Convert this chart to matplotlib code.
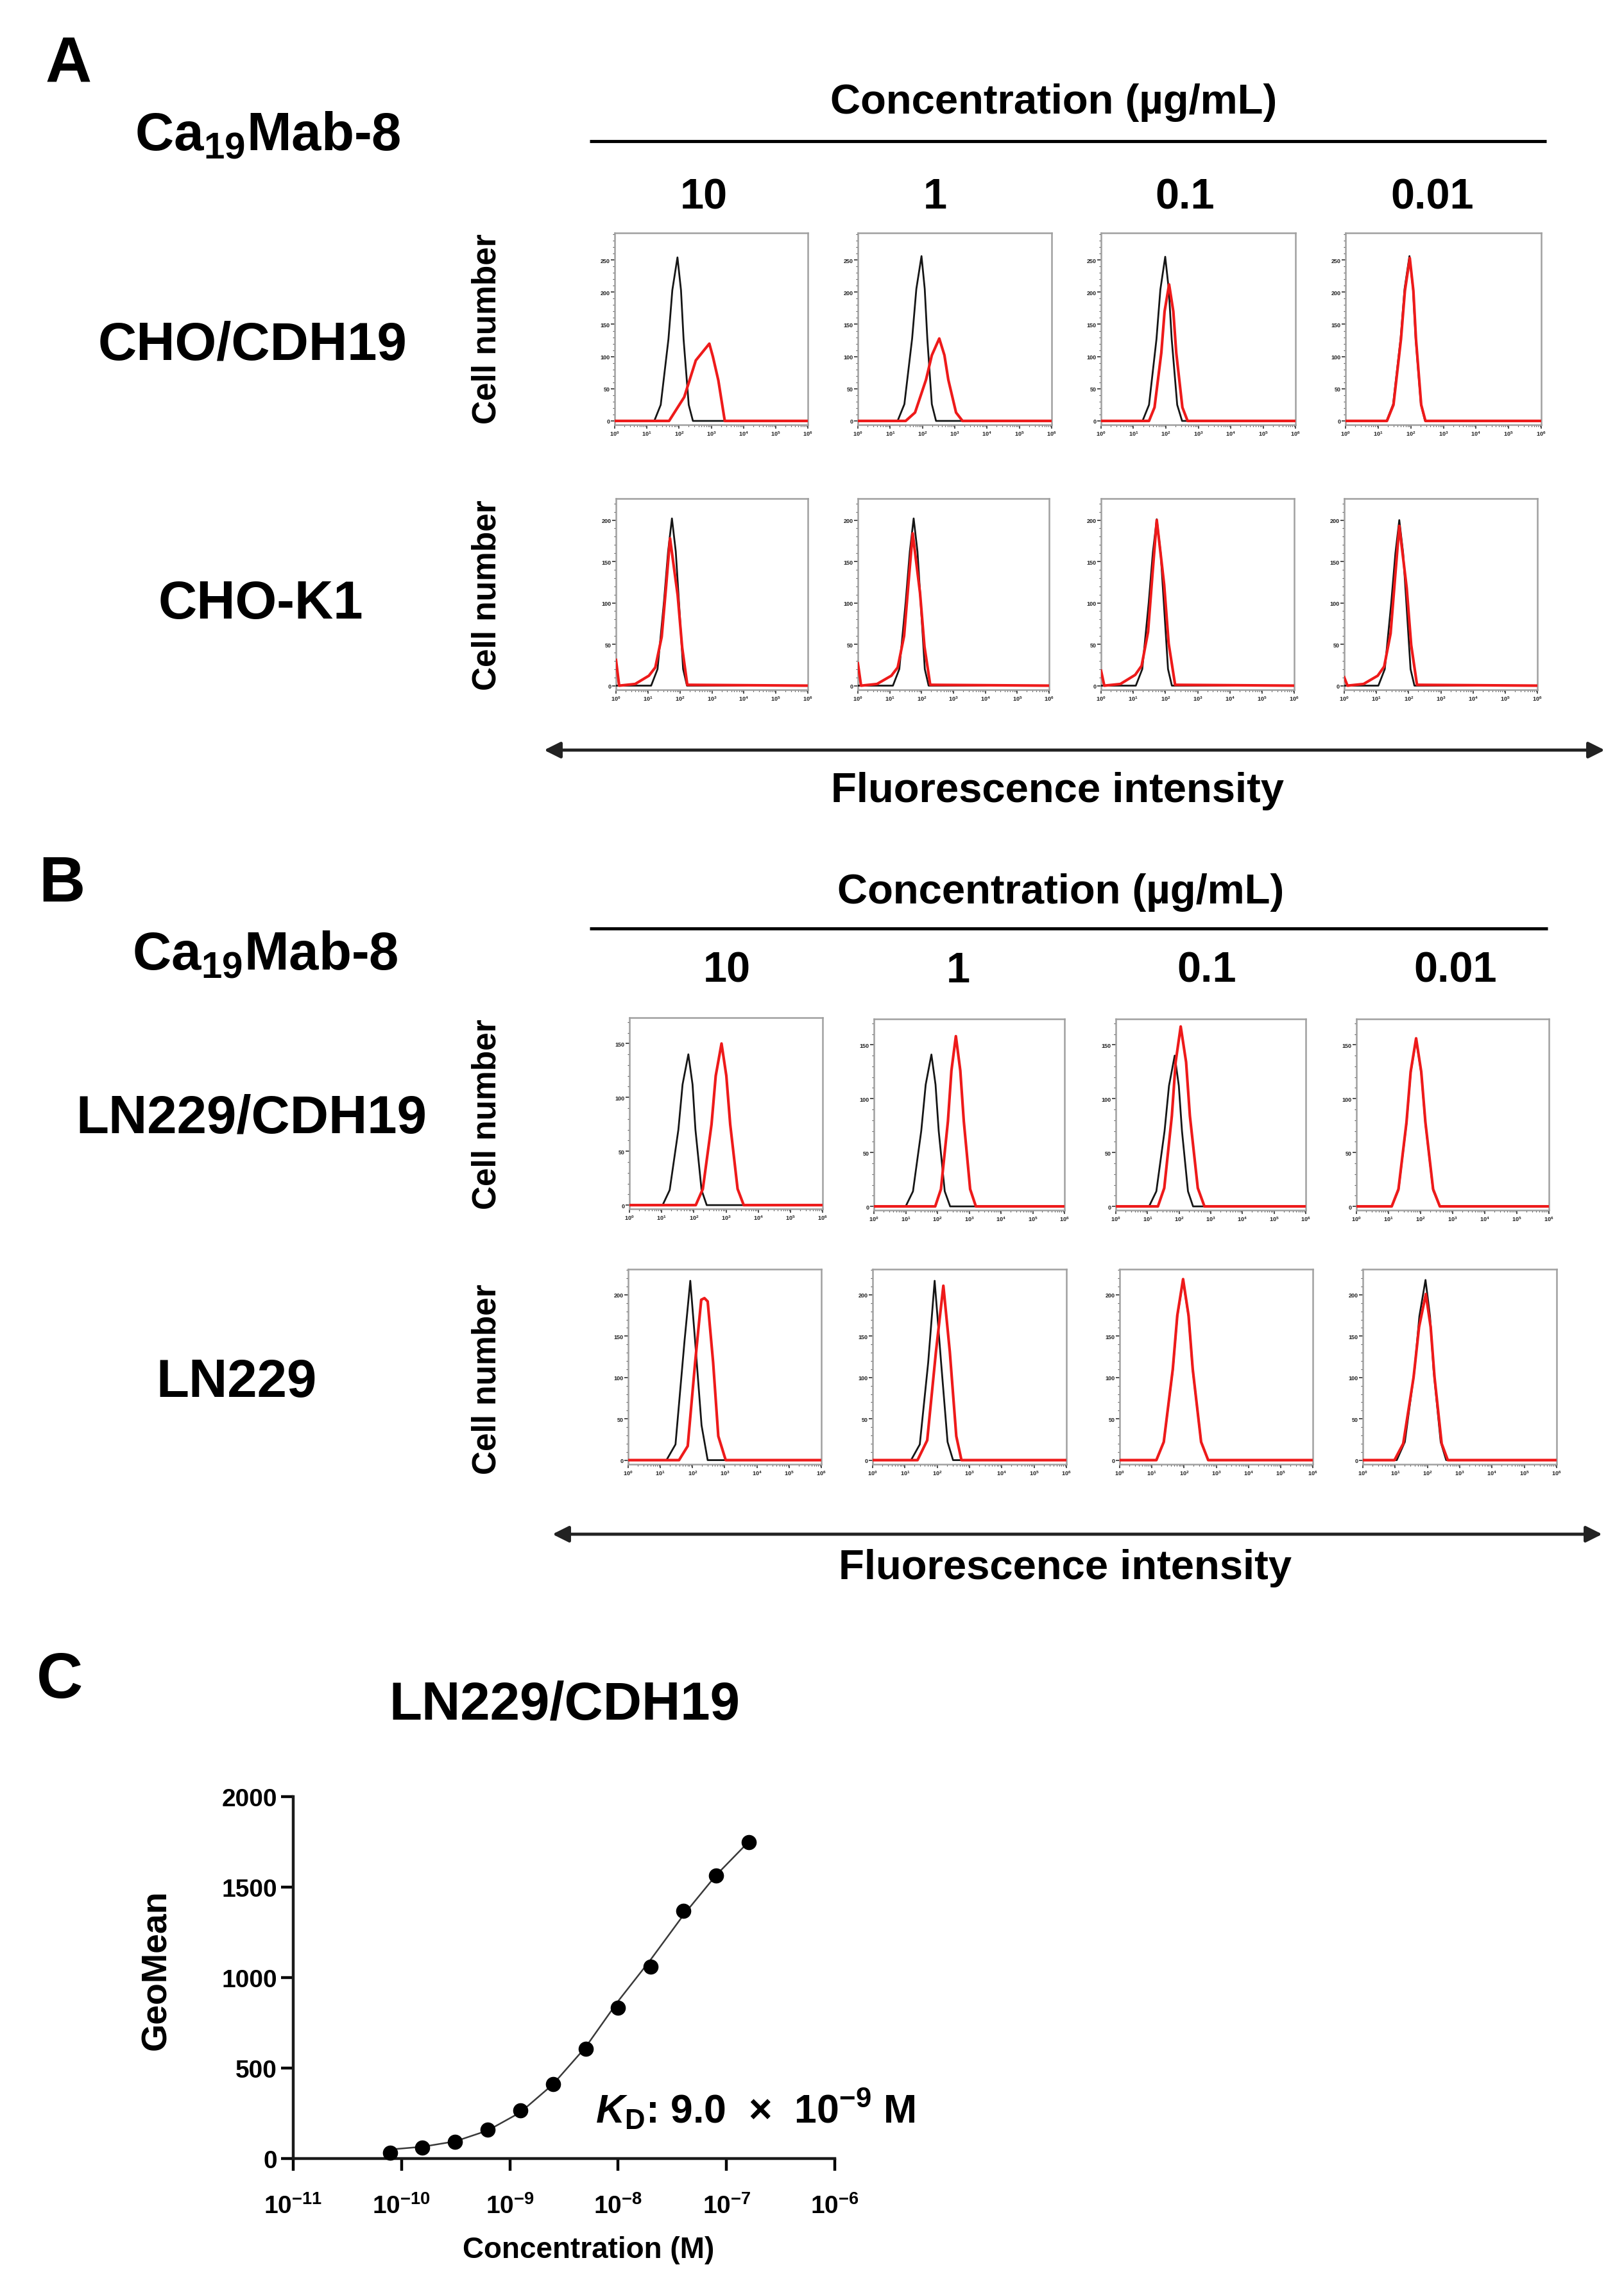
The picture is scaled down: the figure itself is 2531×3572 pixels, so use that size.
import numpy as np
import matplotlib
matplotlib.use('Agg')
import matplotlib.pyplot as plt
from matplotlib.lines import Line2D
from matplotlib.patches import FancyArrowPatch
from matplotlib.ticker import NullLocator, FixedLocator

plt.rcParams['font.family'] = ['Liberation Sans', 'DejaVu Sans']
plt.rcParams['mathtext.fontset'] = 'custom'
plt.rcParams['mathtext.rm'] = 'Liberation Sans:bold'
plt.rcParams['mathtext.it'] = 'Liberation Sans:italic:bold'
plt.rcParams['mathtext.bf'] = 'Liberation Sans:bold'
plt.rcParams['mathtext.default'] = 'rm'

# ---------------- data ----------------
conc_labels = ['10', '1', '0.1', '0.01']
cells_A = ['CHO/CDH19', 'CHO-K1']
cells_B = ['LN229/CDH19', 'LN229']

# histogram traces: x = log10(fluorescence), y = cell count, one list per concentration column
cho_cdh19_black_x = [[0.0, 1.23, 1.43, 1.67, 1.79, 1.95, 2.06, 2.14, 2.30, 2.43, 6.0],
                     [0.0, 1.23, 1.44, 1.68, 1.81, 1.97, 2.07, 2.15, 2.29, 2.42, 6.0],
                     [0.0, 1.28, 1.48, 1.71, 1.83, 1.98, 2.09, 2.18, 2.35, 2.50, 6.0],
                     [0.0, 1.26, 1.46, 1.69, 1.81, 1.96, 2.07, 2.15, 2.31, 2.44, 6.0]]
cho_cdh19_black_y = [[0, 0, 25, 127, 203, 254, 203, 127, 25, 0, 0],
                     [0, 0, 26, 128, 205, 256, 205, 128, 26, 0, 0],
                     [0, 0, 25, 127, 204, 255, 204, 127, 25, 0, 0],
                     [0, 0, 26, 128, 205, 256, 205, 128, 26, 0, 0]]
cho_cdh19_red_x = [[0.0, 1.69, 2.16, 2.52, 2.94, 3.05, 3.22, 3.42, 6.0],
                   [0.0, 1.48, 1.77, 2.11, 2.29, 2.52, 2.68, 2.80, 3.04, 3.24, 6.0],
                   [0.0, 1.48, 1.65, 1.86, 1.96, 2.10, 2.23, 2.32, 2.51, 2.67, 6.0],
                   [0.0, 1.27, 1.47, 1.70, 1.82, 1.97, 2.08, 2.16, 2.32, 2.45, 6.0]]
cho_cdh19_red_y = [[0, 0, 37, 94, 120, 100, 63, 0, 0],
                   [0, 0, 13, 64, 102, 128, 102, 64, 13, 0, 0],
                   [0, 0, 21, 106, 170, 212, 170, 106, 21, 0, 0],
                   [0, 0, 25, 127, 202, 253, 202, 127, 25, 0, 0]]

chok1_black_x = [[0.0, 1.10, 1.30, 1.50, 1.63, 1.75, 1.87, 1.97, 2.10, 2.22, 6.0],
                 [0.0, 1.10, 1.30, 1.50, 1.63, 1.75, 1.87, 1.97, 2.10, 2.22, 6.0],
                 [0.0, 1.08, 1.28, 1.48, 1.61, 1.73, 1.85, 1.95, 2.08, 2.20, 6.0],
                 [0.0, 1.06, 1.26, 1.46, 1.59, 1.71, 1.83, 1.93, 2.06, 2.18, 6.0]]
chok1_black_y = [[0, 0, 20, 101, 162, 202, 162, 101, 20, 0, 0],
                 [0, 0, 20, 101, 162, 202, 162, 101, 20, 0, 0],
                 [0, 0, 20, 100, 161, 201, 161, 100, 20, 0, 0],
                 [0, 0, 20, 100, 160, 200, 160, 100, 20, 0, 0]]
chok1_red_x = [[0.0, 0.1, 0.6, 1.03, 1.23, 1.43, 1.57, 1.69, 1.93, 2.07, 2.23, 6.0],
               [0.0, 0.1, 0.6, 1.05, 1.25, 1.45, 1.59, 1.72, 1.95, 2.09, 2.27, 6.0],
               [0.0, 0.1, 0.6, 1.06, 1.26, 1.46, 1.60, 1.73, 1.96, 2.10, 2.30, 6.0],
               [0.0, 0.1, 0.6, 1.04, 1.24, 1.44, 1.58, 1.71, 1.94, 2.08, 2.26, 6.0]]
chok1_red_y = [[31, 0, 2, 12, 22, 59, 121, 178, 109, 46, 1, 0],
               [27, 0, 2, 12, 22, 60, 125, 184, 112, 47, 1, 0],
               [18, 0, 2, 13, 24, 65, 136, 200, 122, 51, 1, 0],
               [10, 0, 2, 12, 23, 63, 131, 193, 118, 49, 1, 0]]

ln229_cdh19_black_x = [[0.0, 1.03, 1.25, 1.52, 1.65, 1.83, 1.96, 2.05, 2.24, 2.40, 6.0],
                       [0.0, 1.00, 1.23, 1.49, 1.63, 1.81, 1.94, 2.04, 2.23, 2.40, 6.0],
                       [0.0, 1.05, 1.28, 1.54, 1.68, 1.86, 1.99, 2.09, 2.28, 2.44, 6.0],
                       [0.0, 1.10, 1.31, 1.56, 1.69, 1.86, 2.02, 2.15, 2.39, 2.60, 6.0]]
ln229_cdh19_black_y = [[0, 0, 14, 70, 112, 140, 112, 70, 14, 0, 0],
                       [0, 0, 14, 70, 113, 141, 113, 70, 14, 0, 0],
                       [0, 0, 14, 70, 112, 140, 112, 70, 14, 0, 0],
                       [0, 0, 15, 77, 124, 155, 124, 77, 15, 0, 0]]
ln229_cdh19_red_x = [[0.0, 2.06, 2.28, 2.55, 2.68, 2.86, 3.01, 3.13, 3.36, 3.55, 6.0],
                     [0.0, 1.93, 2.11, 2.33, 2.44, 2.58, 2.72, 2.83, 3.03, 3.21, 6.0],
                     [0.0, 1.33, 1.53, 1.77, 1.89, 2.05, 2.22, 2.34, 2.59, 2.80, 6.0],
                     [0.0, 1.10, 1.31, 1.56, 1.69, 1.86, 2.02, 2.15, 2.39, 2.60, 6.0]]
ln229_cdh19_red_y = [[0, 0, 15, 75, 120, 150, 120, 75, 15, 0, 0],
                     [0, 0, 16, 79, 126, 158, 126, 79, 16, 0, 0],
                     [0, 0, 17, 84, 134, 167, 134, 84, 17, 0, 0],
                     [0, 0, 16, 78, 125, 156, 125, 78, 16, 0, 0]]

ln229_black_x = [[0.0, 1.19, 1.47, 1.75, 1.93, 2.08, 2.28, 2.47, 6.0],
                 [0.0, 1.19, 1.46, 1.72, 1.92, 2.12, 2.32, 2.49, 6.0],
                 [0.0, 1.14, 1.37, 1.65, 1.79, 1.97, 2.14, 2.27, 2.53, 2.75, 6.0],
                 [0.0, 1.05, 1.30, 1.60, 1.75, 1.94, 2.08, 2.19, 2.41, 2.58, 6.0]]
ln229_black_y = [[0, 0, 19, 144, 217, 144, 42, 0, 0],
                 [0, 0, 19, 118, 217, 118, 22, 0, 0],
                 [0, 0, 22, 109, 174, 217, 174, 109, 22, 0, 0],
                 [0, 0, 22, 109, 174, 218, 174, 109, 22, 0, 0]]
ln229_red_x = [[0.0, 1.58, 1.85, 2.08, 2.27, 2.37, 2.47, 2.64, 2.80, 3.03, 6.0],
               [0.0, 1.39, 1.69, 1.96, 2.19, 2.39, 2.59, 2.75, 6.0],
               [0.0, 1.14, 1.37, 1.65, 1.79, 1.97, 2.14, 2.27, 2.53, 2.75, 6.0],
               [0.0, 0.98, 1.25, 1.57, 1.74, 1.95, 2.10, 2.22, 2.44, 2.63, 6.0]]
ln229_red_y = [[0, 0, 17, 118, 194, 196, 192, 118, 29, 0, 0],
               [0, 0, 24, 131, 211, 131, 29, 0, 0],
               [0, 0, 22, 110, 175, 219, 175, 110, 22, 0, 0],
               [0, 0, 20, 100, 161, 201, 161, 100, 20, 0, 0]]

# panel C: binding curve
conc_M = [7.8e-11, 1.56e-10, 3.13e-10, 6.25e-10, 1.25e-9, 2.5e-9, 5e-9, 1e-8, 2e-8, 4e-8, 8e-8, 1.6e-7]
geomean = [32, 60, 92, 160, 266, 411, 606, 833, 1060, 1369, 1564, 1748]
geomean_fit = [50, 65, 95, 155, 255, 410, 615, 870, 1100, 1345, 1565, 1750]
kd_text = r'$\mathit{K}_{\mathrm{D}}$: 9.0  ×  10$^{-9}$ M'

# ---------------- figure ----------------
W, H = 2531, 3573
fig = plt.figure(figsize=(W / 100, H / 100), dpi=100)


def fx(x):
    return x / W


def fy(y):
    return 1 - y / H


def txt(x, y, s, size, **kw):
    kw.setdefault('ha', 'center')
    kw.setdefault('va', 'center')
    fig.text(fx(x), fy(y), s, fontsize=size, fontweight='bold', **kw)


def hline(x1, x2, y, lw=3.5):
    fig.add_artist(Line2D([fx(x1), fx(x2)], [fy(y), fy(y)], transform=fig.transFigure,
                          lw=lw, color='black', solid_capstyle='butt'))


def arrow(x1, x2, y):
    fig.add_artist(FancyArrowPatch((fx(x1), fy(y)), (fx(x2), fy(y)), transform=fig.transFigure,
                                   arrowstyle='<|-|>', mutation_scale=38, lw=3.5,
                                   color='#222222', shrinkA=0, shrinkB=0))


minor_x = [d + np.log10(m) for d in range(6) for m in range(2, 10)]


def hist_panel(box, ylim, yticks, bx, by, rx, ry):
    l, t, r, b = box
    ax = fig.add_axes([fx(l), fy(b), (r - l) / W, (b - t) / H])
    ax.plot(bx, by, color='#151515', lw=2.0, solid_joinstyle='round', zorder=3)
    ax.plot(rx, ry, color='#ee1a1a', lw=3.0, solid_joinstyle='round', zorder=4)
    ax.set_xlim(0, 6)
    ax.set_ylim(*ylim)
    ax.set_xticks(range(7))
    ax.set_xticklabels([f'$10^{{{d}}}$' for d in range(7)], fontsize=6.5)
    ax.xaxis.set_minor_locator(FixedLocator(minor_x))
    ax.set_yticks(yticks)
    ax.set_yticklabels([str(v) for v in yticks], fontsize=6.5, fontweight='bold')
    step = yticks[1] - yticks[0]
    ax.yaxis.set_minor_locator(FixedLocator(np.arange(0, ylim[1], step / 5)))
    for s in ax.spines.values():
        s.set_color('#a0a0a0')
        s.set_linewidth(1.8)
    ax.tick_params(which='major', direction='out', length=4, width=1.2, color='#333333', pad=1.5,
                   labelcolor='#222222')
    ax.tick_params(which='minor', direction='out', length=2, width=0.8, color='#555555')
    return ax


# ---- Panel A ----
txt(107, 103, 'A', 72)
txt(417, 212, r'Ca$_{19}$Mab-8', 60)
txt(1642, 160, 'Concentration (µg/mL)', 47)
hline(919, 2410, 221)
for x, s in zip([1097, 1457, 1847, 2232], conc_labels):
    txt(x, 308, s, 48)
txt(394, 538, cells_A[0], 60)
txt(406, 942, cells_A[1], 60)
txt(759, 513, 'Cell number', 37, rotation=90)
txt(759, 928, 'Cell number', 37, rotation=90)

boxes_A1 = [(958, 364, 1259, 663), (1337, 364, 1639, 663), (1716, 364, 2019, 663), (2097, 364, 2402, 663)]
boxes_A2 = [(960, 778, 1259, 1076), (1337, 778, 1635, 1076), (1716, 778, 2017, 1076), (2095, 778, 2396, 1076)]
for i in range(4):
    hist_panel(boxes_A1[i], (-6, 292), [0, 50, 100, 150, 200, 250],
               cho_cdh19_black_x[i], cho_cdh19_black_y[i], cho_cdh19_red_x[i], cho_cdh19_red_y[i])
    hist_panel(boxes_A2[i], (-5, 226), [0, 50, 100, 150, 200],
               chok1_black_x[i], chok1_black_y[i], chok1_red_x[i], chok1_red_y[i])
arrow(848, 2501, 1170)
txt(1648, 1233, 'Fluorescence intensity', 47)

# ---- Panel B ----
txt(96, 1379, 'B', 72)
txt(1653, 1391, 'Concentration (µg/mL)', 47)
hline(919, 2412, 1448)
txt(413, 1489, r'Ca$_{19}$Mab-8', 60)
for x, s in zip([1133, 1493, 1881, 2268], conc_labels):
    txt(x, 1514, s, 48)
txt(392, 1744, cells_B[0], 60)
txt(369, 2155, cells_B[1], 60)
txt(759, 1737, 'Cell number', 37, rotation=90)
txt(759, 2150, 'Cell number', 37, rotation=90)

boxes_B1 = [(981, 1587, 1282, 1885), (1362, 1589, 1659, 1887), (1739, 1589, 2035, 1887), (2114, 1589, 2414, 1887)]
boxes_B2 = [(979, 1979, 1280, 2283), (1360, 1979, 1662, 2283), (1745, 1979, 2046, 2283), (2124, 1979, 2426, 2283)]
for i in range(4):
    hist_panel(boxes_B1[i], (-3.5, 174), [0, 50, 100, 150],
               ln229_cdh19_black_x[i], ln229_cdh19_black_y[i], ln229_cdh19_red_x[i], ln229_cdh19_red_y[i])
    hist_panel(boxes_B2[i], (-5, 231), [0, 50, 100, 150, 200],
               ln229_black_x[i], ln229_black_y[i], ln229_red_x[i], ln229_red_y[i])
arrow(861, 2497, 2392)
txt(1660, 2444, 'Fluorescence intensity', 47)

# ---- Panel C ----
txt(93, 2620, 'C', 72)
txt(880, 2658, 'LN229/CDH19', 60)
axc = fig.add_axes([fx(457), fy(3365), (1301 - 457) / W, (3365 - 2801) / H])
axc.set_xscale('log')
axc.plot(conc_M, geomean_fit, color='#3a3a3a', lw=1.8, zorder=2)
axc.plot(conc_M, geomean, 'o', color='black', ms=16, zorder=3, clip_on=False)
axc.set_xlim(1e-11, 1e-6)
axc.set_ylim(0, 2000)
decades = [-11, -10, -9, -8, -7, -6]
axc.set_xticks([10.0 ** d for d in decades])
axc.set_xticklabels([f'$10^{{{d}}}$' for d in decades], fontsize=28)
axc.xaxis.set_minor_locator(NullLocator())
axc.set_yticks([0, 500, 1000, 1500, 2000])
axc.set_yticklabels(['0', '500', '1000', '1500', '2000'], fontsize=28, fontweight='bold')
for s in ['top', 'right']:
    axc.spines[s].set_visible(False)
for s in ['left', 'bottom']:
    axc.spines[s].set_linewidth(3.2)
    axc.spines[s].set_color('#1a1a1a')
axc.tick_params(axis='x', direction='out', length=14, width=3.2, pad=26)
axc.tick_params(axis='y', direction='out', length=14, width=3.2, pad=4)
txt(244, 3070, 'GeoMean', 40, rotation=90)
txt(917, 3507, 'Concentration (M)', 33)
txt(928, 3288, kd_text, 45, ha='left')

fig.savefig('out.png', dpi=100, facecolor='white')
